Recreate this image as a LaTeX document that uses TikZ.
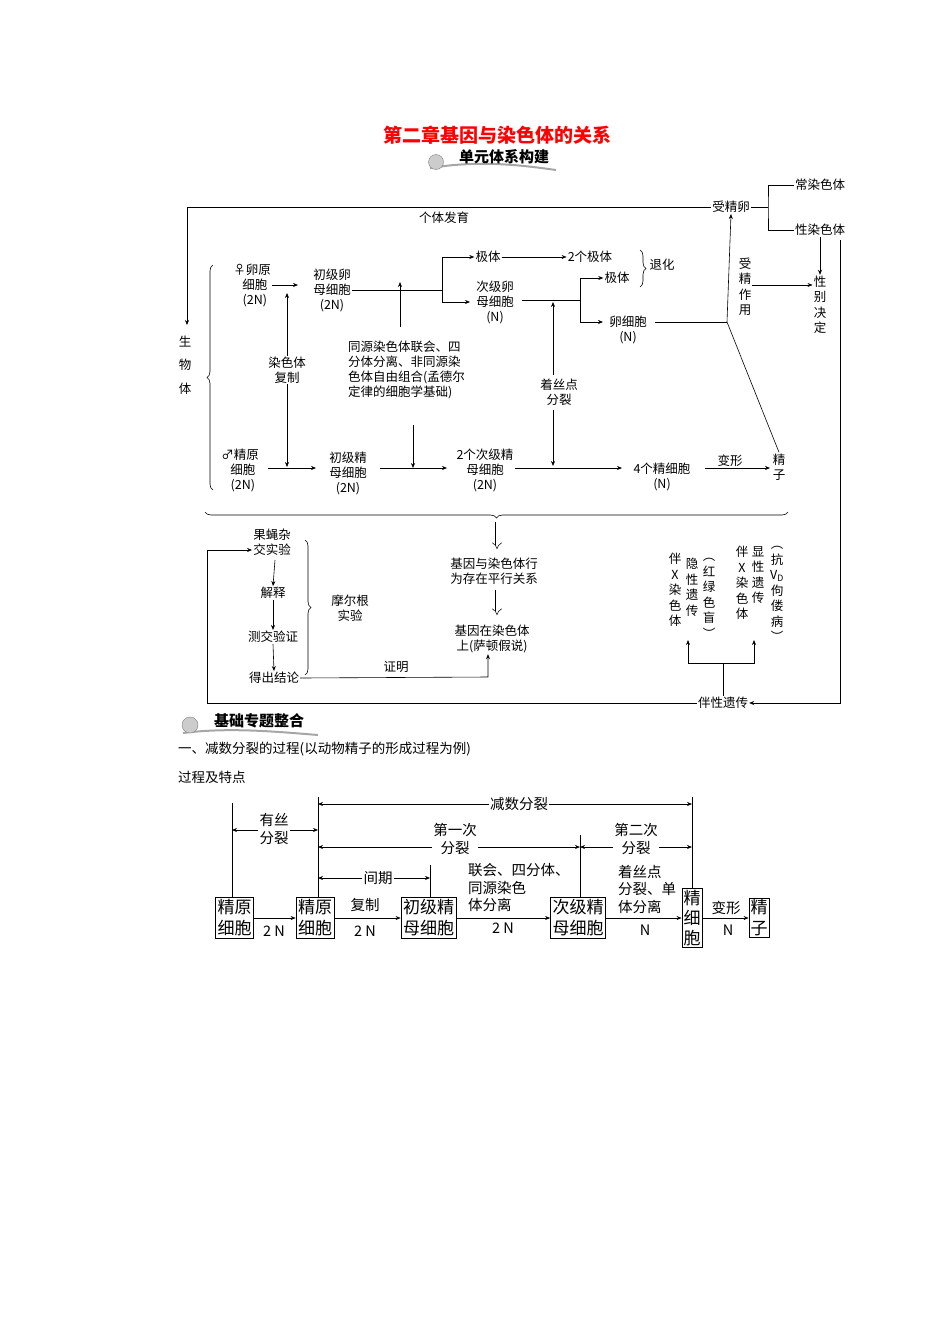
\documentclass[tikz,border=0pt]{standalone}
\usepackage{fontspec}
\setmainfont{Noto Sans CJK SC}
\usetikzlibrary{arrows.meta,decorations.pathreplacing}
\begin{document}
\begin{tikzpicture}[x=1pt,y=-1pt,
  t/.style={font=\fontsize{12.5}{15}\selectfont,inner sep=1pt,align=center},
  tl/.style={t,align=left,anchor=west},
  vt/.style={font=\fontsize{12.5}{15.5}\selectfont,inner sep=1pt,align=center},
  ar/.style={-{Stealth[length=5pt,width=4pt]},line width=0.6pt},
  ln/.style={line width=0.6pt},
  br/.style={decorate,decoration={brace,amplitude=6pt},line width=0.6pt},
  bx/.style={draw,line width=0.8pt,inner sep=2pt,font=\fontsize{17}{21}\selectfont,align=center},
  bt/.style={font=\fontsize{14.5}{17.5}\selectfont,inner sep=1pt,align=center},
  dbl/.style={double,double distance=3pt,line width=0.5pt,-{Implies[]}}]
\useasboundingbox (0,0) rectangle (950,1344);
% title
\node[font=\fontsize{19}{22}\selectfont\bfseries,text=red] (title) at (497,135) {第二章基因与染色体的关系};
\draw[gray!70,line width=2pt] (430,168) .. controls (480,160) and (520,165) .. (556,170);
\draw[fill=gray!40,draw=gray] (436,162) circle (7.5);
\node[font=\fontsize{15}{18}\selectfont\bfseries] (badge1) at (504,157) {单元体系构建};
% top loop
\node[t] (szl) at (731,207) {受精卵};
\node[t] (gtfy) at (444,218) {个体发育};
\coordinate (tl) at (187,207);
\draw[ar] (szl.west) -- (tl) -- (187,325);
\node[t] (cr) at (820,185) {常染色体};
\node[t] (xr) at (820,230) {性染色体};
\draw[ln] (szl.east) -- (768,207);
\draw[ln] (cr.west) -| (768,207) |- (xr.west);
\node[vt] (xbjd) at (820,305) {性\\别\\决\\定};
\draw[ar] (xr.south) -- (xbjd.north);
\node[vt] (szzy) at (745,287) {受\\精\\作\\用};
\draw[ar] (szzy.east |- 0,285) -- (xbjd.west |- 0,285);
\node[vt] (swt) at (185,365) {生\\[8pt]物\\[8pt]体};
\draw[br] (213,490) -- (213,265);
% female
\node[t] (lyxb) at (252,285) {♀卵原\\\ \ 细胞\\\ \ (2N)};
\node[t] (cjl) at (332,290) {初级卵\\母细胞\\(2N)};
\draw[ar] (lyxb.east |- 0,285) -- (298,285);
\coordinate (b1) at (442,290);
\draw[ln] (cjl.east |- 0,290) -- (b1);
\node[t] (jt1) at (488,257) {极体};
\node[t] (cjl2) at (495,302) {次级卵\\母细胞\\(N)};
\draw[ar] (b1) |- (jt1.west);
\draw[ar] (b1) |- (470,302);
\node[t] (ljt) at (590,257) {2个极体};
\draw[ar] (jt1.east) -- (ljt.west);
\node[t] (jt2) at (617,278) {极体};
\node[t] (lxb) at (628,330) {卵细胞\\(N)};
\coordinate (b2) at (580,300);
\draw[ln] (522,300) -- (b2);
\draw[ar] (b2) |- (jt2.west);
\draw[ar] (b2) |- (603,322);
\draw[br] (640,250) -- (640,287);
\node[t] (th) at (662,265) {退化};
\coordinate (j1) at (727,322);
\draw[ln] (655,322) -- (j1);
\draw[ar] (j1) -- (szl.south);
% middle labels
\node[tl] (tyrs) at (347,370) {同源染色体联会、四\\分体分离、非同源染\\色体自由组合(孟德尔\\定律的细胞学基础)};
\draw[ar] (400,327) -- (400,282);
\draw[ar] (413,425) -- (413,468);
\node[t] (rstfz) at (287,370) {染色体\\复制};
\draw[ar] (rstfz.north) -- (287,293);
\draw[ar] (rstfz.south) -- (287,467);
\node[t] (zsd) at (559,392) {着丝点\\分裂};
\draw[ar] (553,375) -- (553,302);
\draw[ar] (553,410) -- (553,466);
% male
\node[t] (jyxb) at (240,470) {♂精原\\\ \ 细胞\\\ \ (2N)};
\node[t] (cjj) at (348,473) {初级精\\母细胞\\(2N)};
\node[t] (cjj2) at (485,470) {2个次级精\\母细胞\\(2N)};
\node[t] (jxb) at (662,477) {4个精细胞\\(N)};
\node[vt] (jz) at (779,467) {精\\子};
\draw[ar] (268,468) -- (316,468);
\draw[ar] (380,468) -- (447,468);
\draw[ar] (515,468) -- (622,468);
\draw[ar] (705,468) -- (770,468);
\node[t] (bx) at (730,461) {变形};
\draw[ln] (j1) -- (jz.north);
% big brace
\draw[br] (788,512) -- (205,512);
\draw[dbl] (497,522) -- (497,549);
\node[t] (pxgx) at (494,571) {基因与染色体行\\为存在平行关系};
\draw[dbl] (497,590) -- (497,615);
\node[t] (sd) at (492,639) {基因在染色体\\上(萨顿假说)};
% morgan
\node[t] (gy) at (272,542) {果蝇杂\\交实验};
\node[t] (js) at (273,593) {解释};
\node[t] (cj) at (273,637) {测交验证};
\node[t] (dc) at (274,678) {得出结论};
\draw[ar] (275,560) -- (js.north);
\draw[ar] (js.south) -- (cj.north);
\draw[ar] (cj.south) -- (dc.north);
\draw[br] (305,540) -- (305,675);
\node[t] (mrg) at (350,608) {摩尔根\\实验};
\draw[ar] (dc.east) -- (488,677) -- (sd.south -| 488,0);
\node[t] (zm) at (396,667) {证明};
% sex-linked
\node[t] (bxyc) at (723,703) {伴性遗传};
\draw[ar] (840,240) -- (840,703) -- (bxyc.east);
\draw[ar] (bxyc.west) -- (207,703) -- (207,550) -- (gy.west |- 0,550);
\draw[ln] (bxyc.north) -- (723,663);
\draw[ar] (688,663) -- (688,640);
\draw[ar] (688,663) -- (754,663) -- (754,640);
\node[vt,anchor=north] (v1) at (675,552) {伴\\X\\染\\色\\体};
\node[vt,anchor=north] (v2) at (692,557) {隐\\性\\遗\\传};
\node[vt,anchor=north] (v3) at (709,557) {︵\\红\\绿\\色\\盲\\︶};
\node[vt,anchor=north] (v4) at (742,545) {伴\\X\\染\\色\\体};
\node[vt,anchor=north] (v5) at (758,545) {显\\性\\遗\\传};
\node[vt,anchor=north] (v6) at (777,545) {︵\\抗\\V\textsubscript{D}\\佝\\偻\\病\\︶};
% section 2
\draw[gray!70,line width=2pt] (183,733) .. controls (230,727) and (280,732) .. (318,735);
\draw[fill=gray!40,draw=gray] (190,725) circle (8);
\node[font=\fontsize{15}{18}\selectfont\bfseries] (badge2) at (259,721) {基础专题整合};
\node[font=\fontsize{13.5}{16}\selectfont,anchor=west,inner sep=0pt] (s1) at (178,749) {一、减数分裂的过程(以动物精子的形成过程为例)};
\node[font=\fontsize{13.5}{16}\selectfont,anchor=west,inner sep=0pt] (s2) at (178,777) {过程及特点};
% bottom diagram
\node[bx] (B1) at (234.5,918) {精原\\细胞};
\node[bx] (B2) at (315,918) {精原\\细胞};
\node[bx] (B3) at (428.5,918) {初级精\\母细胞};
\node[bx] (B4) at (578,918) {次级精\\母细胞};
\node[bx,inner sep=1.5pt,font=\fontsize{17}{20}\selectfont] (B5) at (692,918) {精\\细\\胞};
\node[bx,inner sep=1.5pt] (B6) at (759,918) {精\\子};
\draw[ar] (B1) -- (B2);
\draw[ar] (B2) -- (B3);
\draw[ar] (B3) -- (B4);
\draw[ar] (B4) -- (B5);
\draw[ar] (B5) -- (B6);
\node[bt] (n1) at (274,931) {2 N};
\node[bt] (n2) at (365,931) {2 N};
\node[bt] (n3) at (503,928) {2 N};
\node[bt] (n4) at (645,930) {N};
\node[bt] (n5) at (728,930) {N};
\node[bt] (fz) at (365,905) {复制};
\node[bt] (bx2) at (726,908) {变形};
\node[bt,align=left,anchor=west] (lh) at (467,888) {联会、四分体、\\同源染色\\体分离};
\node[bt,align=left,anchor=west] (zs) at (617,889) {着丝点\\分裂、单\\体分离};
\coordinate (L1) at (232,803);
\coordinate (L2) at (318,797);
\coordinate (L3) at (430,865);
\coordinate (L4) at (580,835);
\coordinate (L5) at (692,797);
\draw[ln] (L1) -- (B1.north -| L1);
\draw[ln] (L2) -- (B2.north -| L2);
\draw[ln] (L3) -- (B3.north -| L3);
\draw[ln] (L4) -- (B4.north -| L4);
\draw[ln] (L5) -- (B5.north);
\node[bt] (ys) at (274,829) {有丝\\分裂};
\draw[ar] (ys.west |- 0,830) -- (232,830);
\draw[ar] (ys.east |- 0,830) -- (318,830);
\node[bt] (js2) at (519,804) {减数分裂};
\draw[ar] (js2.west) -- (318,804);
\draw[ar] (js2.east) -- (692,804);
\node[bt] (d1) at (455,839) {第一次\\分裂};
\draw[ar] (d1.west |- 0,847) -- (318,847);
\draw[ar] (d1.east |- 0,847) -- (580,847);
\node[bt] (d2) at (636,839) {第二次\\分裂};
\draw[ar] (d2.west |- 0,847) -- (580,847);
\draw[ar] (d2.east |- 0,847) -- (692,847);
\node[bt] (jq) at (378,878) {间期};
\draw[ar] (jq.west) -- (318,878);
\draw[ar] (jq.east) -- (430,878);
\end{tikzpicture}
\end{document}
